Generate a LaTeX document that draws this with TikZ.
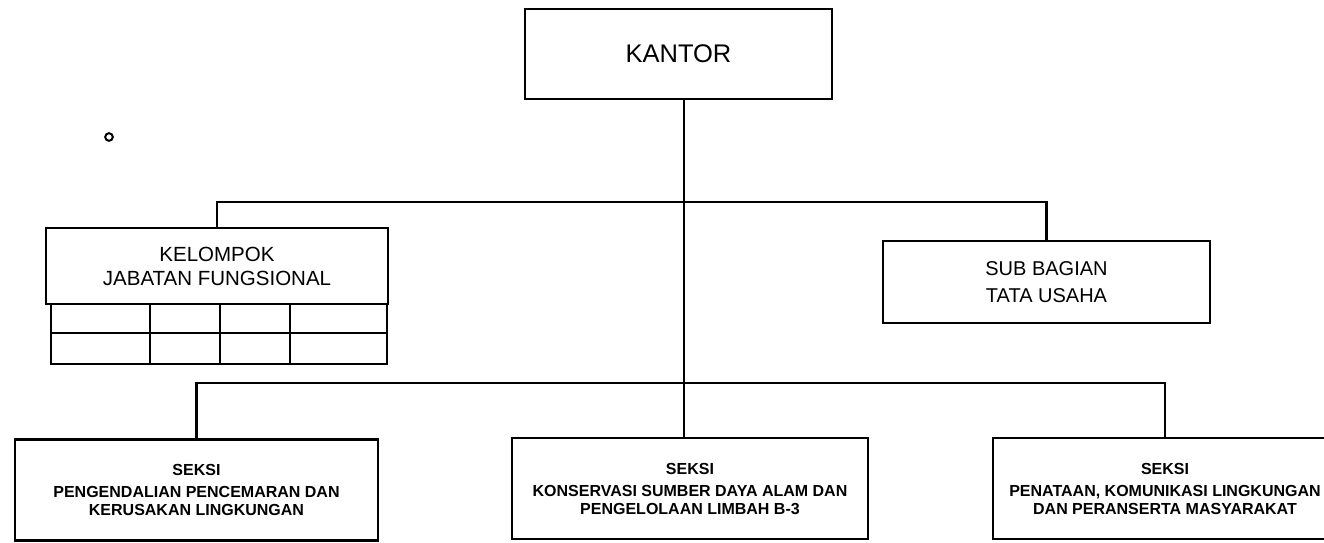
\documentclass[tikz,border=0pt]{standalone}
\usepackage{fontspec}
\setmainfont{Liberation Sans}
\tikzset{
  unit/.style={draw, line width=2.9pt, inner sep=0pt, align=center},
  link/.style={line width=2.6pt},
}
\begin{document}
\begin{tikzpicture}[x=1pt,y=-1pt]
\useasboundingbox (0,0) rectangle (1324,542);
% top
\node[unit, minimum width=307, minimum height=90, font=\fontsize{25.5}{30}\selectfont] (kantor) at (678.5,54) {KANTOR};
\node[unit, minimum width=342, minimum height=76, font=\fontsize{20.5}{24}\selectfont] (kelompok) at (217,266) {KELOMPOK\\JABATAN FUNGSIONAL};
\node[unit, minimum width=327, minimum height=82, font=\fontsize{20}{27}\selectfont] (subbag) at (1046.5,282) {SUB BAGIAN\\TATA USAHA};
% table under kelompok
\draw[line width=2.7pt] (51,304) rectangle (387,364);
\draw[line width=2.4pt] (51,333) -- (387,333);
\foreach \cx in {150,220,290}
  \draw[line width=2.4pt] (\cx,304) -- (\cx,364);
% seksi
\tikzset{seksi/.style={unit, minimum height=101, font=\bfseries\fontsize{16}{18}\selectfont}}
\node[seksi, minimum width=363] (seksi1) at (196.5,490) {SEKSI\\[4pt]PENGENDALIAN PENCEMARAN DAN\\KERUSAKAN LINGKUNGAN};
\node[seksi, minimum width=356] (seksi2) at (690,488.5) {SEKSI\\[4pt]KONSERVASI SUMBER DAYA ALAM DAN\\PENGELOLAAN LIMBAH B-3};
\node[seksi, minimum width=344] (seksi3) at (1165,488.5) {SEKSI\\[4pt]PENATAAN, KOMUNIKASI LINGKUNGAN\\DAN PERANSERTA MASYARAKAT};
% connectors
\coordinate (bus1) at (684,202);
\coordinate (bus2) at (684,383);
\draw[link] (kantor.south -| bus1) -- (seksi2.north -| bus1);
\draw[link] (kelompok.north) |- (bus1) -| (subbag.north);
\draw[link] (seksi1.north) |- (bus2) -| (seksi3.north);
\draw[line width=2pt] (109,137) circle (3.8);
\end{tikzpicture}
\end{document}
